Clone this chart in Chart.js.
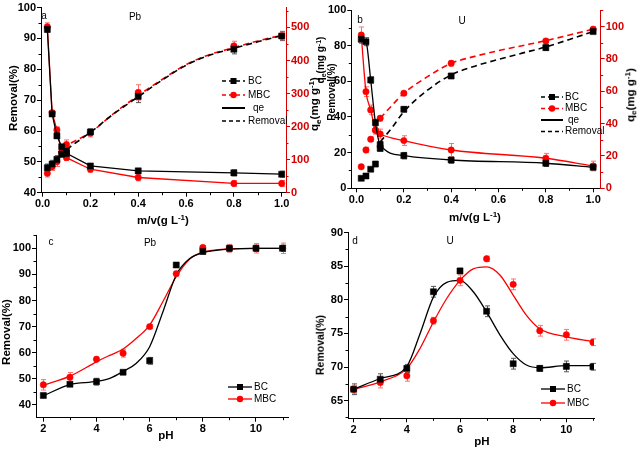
<!DOCTYPE html>
<html><head><meta charset="utf-8">
<script src="https://cdn.jsdelivr.net/npm/chart.js@4.4.1/dist/chart.umd.min.js"></script>
<style>
html,body{margin:0;padding:0;background:#fff;}
#wrap{position:relative;width:638px;height:451px;overflow:hidden;background:#fff;font-family:"Liberation Sans",Arial,sans-serif;}
.p{position:absolute;}
.p canvas{display:block;}
.t{position:absolute;white-space:nowrap;transform:translate(-50%,-50%);line-height:1;color:#000;font-size:10px;}
.b{font-weight:bold;font-size:11.5px;}
.r{transform:translate(-50%,-50%) rotate(-90deg);}
.t sub{font-size:70%;vertical-align:-0.3em;line-height:0;}
.t sup{font-size:70%;vertical-align:0.5em;line-height:0;}
</style></head><body>
<div id="wrap">
 <div class="p" style="left:0;top:0;width:319px;height:225px"><canvas id="ca" width="319" height="225"></canvas></div>
 <div class="p" style="left:319px;top:0;width:319px;height:225px"><canvas id="cb" width="319" height="225"></canvas></div>
 <div class="p" style="left:0;top:225px;width:319px;height:226px"><canvas id="cc" width="319" height="226"></canvas></div>
 <div class="p" style="left:319px;top:225px;width:319px;height:226px"><canvas id="cd" width="319" height="226"></canvas></div>

 <div class="t" style="left:44px;top:16px">a</div>
 <div class="t" style="left:135px;top:17px">Pb</div>
 <div class="t b r" style="left:14px;top:98px">Removal(%)</div>
 <div class="t b r" style="left:315px;top:104px">q<sub>e</sub>(mg g<sup>-1</sup>)</div>
 <div class="t b" style="left:163px;top:221px">m/v(g L<sup>-1</sup>)</div>

 <div class="t" style="left:360px;top:20px">b</div>
 <div class="t" style="left:462px;top:21px">U</div>
 <div class="t b r" style="left:321px;top:60px;font-size:10px">q<sub>e</sub>(mg g<sup>-1</sup>)</div>
 <div class="t b r" style="left:331.5px;top:92px;font-size:10px">Removal(%)</div>
 <div class="t b r" style="left:631px;top:95px">q<sub>e</sub>(mg g<sup>-1</sup>)</div>
 <div class="t b" style="left:475px;top:218px">m/v(g L<sup>-1</sup>)</div>

 <div class="t" style="left:51px;top:242px">c</div>
 <div class="t" style="left:150px;top:243px">Pb</div>
 <div class="t b r" style="left:7px;top:332px">Removal(%)</div>
 <div class="t b" style="left:166px;top:436px">pH</div>

 <div class="t" style="left:355px;top:241px">d</div>
 <div class="t" style="left:450px;top:241px">U</div>
 <div class="t b r" style="left:320px;top:345px;font-size:10.5px">Removal(%)</div>
 <div class="t b" style="left:482px;top:442px">pH</div>
</div>
<script>
// ---------- DATA ----------
// Panel a (Pb, dosage)
const xA = [0.02,0.04,0.06,0.08,0.1,0.2,0.4,0.8,1.0];
const aBCremoval  = [48.1,49.3,50.8,52.5,53.5,59.7,71.2,86.5,90.8];
const aMBCremoval = [46.3,48.4,50.0,53.0,55.6,59.3,72.5,87.6,90.8];
const aBCqe  = [494,238,172,139,119,81,66,60,56];
const aMBCqe = [502,242,190,122,106,71,46,28,28];
const aBCremErr  = [1.2,1.2,1.2,1.0,1.0,1.0,2.0,1.5,1.5];
const aMBCremErr = [1.2,1.2,1.5,1.5,1.5,1.2,2.5,1.5,1.2];
const aBCqeErr  = [8,6,6,6,8,7,7,9,9];
const aMBCqeErr = [12,7,9,8,8,9,10,9,9];
const aFitX = [0.1,0.2,0.3,0.4,0.5,0.6,0.7,0.8,0.9,1.0];
const aBCfit  = [54.0,59.6,65.7,71.1,76.5,81.3,84.6,86.8,88.9,90.9];
const aMBCfit = [55.4,59.5,65.8,71.5,76.7,81.5,84.8,87.0,89.2,91.0];
const aXTicks = [0,0.2,0.4,0.6,0.8,1.0], aXMinor = [0.1,0.3,0.5,0.7,0.9];
const aYTicks = [40,50,60,70,80,90,100], aYMinor = [45,55,65,75,85,95];
const aY2Ticks = [0,100,200,300,400,500], aY2Minor = [50,150,250,350,450,550];

// Panel b (U, dosage)
const xB = [0.02,0.04,0.06,0.08,0.1,0.2,0.4,0.8,1.0];
const bBCremoval  = [5.6,6.9,10.7,13.6,22.4,44.3,63.0,78.9,87.9];
const bMBCremoval = [12.1,21.5,27.5,32.5,39.3,53.3,70.1,82.6,89.3];
const bBCqe  = [92.2,90.7,67.0,40.6,27.0,20.2,17.5,15.5,13.0];
const bMBCqe = [94.8,59.8,48.5,36.0,33.6,29.5,23.7,18.6,13.8];
const bBCremErr  = [0.8,1.2,1.0,1.5,1.5,1.5,1.5,1.5,1.2];
const bMBCremErr = [1.0,1.5,1.2,1.2,1.5,1.0,1.5,1.0,1.2];
const bBCqeErr  = [2.5,2.5,2,2,2,2,2,2,2];
const bMBCqeErr = [5,3,3,2.5,3,3,4,3,3];
const bFitX = [0.1,0.15,0.2,0.3,0.4,0.5,0.6,0.7,0.8,0.9,1.0];
const bBCfit  = [26.0,34.0,43.0,55.0,63.6,68.5,72.3,75.8,79.3,83.5,87.9];
const bMBCfit = [39.3,46.5,53.3,62.6,70.1,74.0,77.2,80.0,82.8,86.0,89.3];
const bXTicks = [0,0.2,0.4,0.6,0.8,1.0], bXMinor = [0.1,0.3,0.5,0.7,0.9];
const bYTicks = [0,20,40,60,80,100], bYMinor = [10,30,50,70,90];
const bY2Ticks = [0,20,40,60,80,100], bY2Minor = [10,30,50,70,90,110];

// Panel c (Pb, pH)
const xC = [2,3,4,5,6,7,8,9,10,11];
const cBC  = [43.6,47.9,48.9,52.5,56.9,93.6,98.8,100,100,100];
const cMBC = [47.7,50.6,57.5,59.8,70.0,90.3,100.3,100,100,100];
const cBCErr  = [0.8,0.8,1.3,0.8,1.3,0.8,1.0,1.2,1.2,1.2];
const cMBCErr = [2.0,1.8,0.8,1.5,0.8,0.8,0.8,1.5,1.8,2.0];
const cFitX = [2,3,4,4.5,5,5.5,6,6.5,7,7.5,8,9,10,11];
const cBCfit  = [43.5,47.8,49.0,50.2,52.8,56.0,62.3,75.7,89.8,96.0,98.3,99.7,100,100];
const cMBCfit = [47.5,51.0,56.5,59.0,61.4,65.5,70.6,79.6,89.1,95.8,98.5,99.8,100,100];
const cXTicks = [2,4,6,8,10], cXMinor = [3,5,7,9,11];
const cYTicks = [40,50,60,70,80,90,100], cYMinor = [45,55,65,75,85,95,105];

// Panel d (U, pH)
const xD = [2,3,4,5,6,7,8,9,10,11];
const dBC  = [66.7,68.2,69.8,81.2,84.3,78.3,70.5,69.8,70.1,70.05];
const dMBC = [66.7,67.7,68.7,76.9,82.9,86.1,82.3,75.4,74.8,73.7];
const dBCErr  = [0.8,0.8,0.6,0.8,0.4,0.8,0.8,0.4,0.8,0.5];
const dMBCErr = [0.6,0.8,0.8,0.5,0.8,0.4,0.8,0.8,0.8,0.5];
const dFitX = [2,3,4,4.5,5,5.5,6,6.5,7,7.5,8,8.5,9,10,11];
const dBCfit  = [66.7,68.3,70.1,75.0,80.4,82.6,82.9,81.2,78.2,74.8,72.0,70.3,69.9,70.2,70.2];
const dMBCfit = [66.7,67.8,69.8,72.8,76.7,80.2,82.9,84.6,84.9,83.7,80.7,77.7,75.7,74.5,73.8];
const dXTicks = [2,4,6,8,10], dXMinor = [3,5,7,9,11];
const dYTicks = [65,70,75,80,85,90], dYMinor = [62.5,67.5,72.5,77.5,82.5,87.5];

// ---------- STYLE / HELPERS ----------
const RED = '#ff0000', AXRED = '#d40000', BLACK = '#000000';
const FAM = '"Liberation Sans", Arial, sans-serif';
Chart.defaults.font.family = FAM;
const tickFont = {family: FAM, size: 11, weight: 'bold'};

function pts(xs, ys){ return xs.map((x,i)=>({x:x, y:ys[i]})); }

function axis(o){
  return {
    type:'linear', position:o.position, min:o.min, max:o.max, bounds:'data',
    afterBuildTicks: ax => { ax.ticks = o.ticks.map(v=>({value:v})); },
    afterFit: ax => { if (ax.isHorizontal()) ax.height = o.size; else ax.width = o.size; },
    ticks:{color:o.color, font:tickFont, padding:1, autoSkip:false, maxRotation:0,
           callback: v => o.fmt ? o.fmt(v) : String(v)},
    grid:{display:true, drawOnChartArea:false, drawTicks:true, tickLength:4, color:o.color, lineWidth:1},
    border:{display:true, color:o.color, width:1},
    title:{display:false}
  };
}

function pointsSet(xs, ys, errs, color, errColor, style, yID, order, showLine, tension){
  return {
    data: pts(xs, ys), errors: errs, errColor: errColor, yAxisID: yID, order: order,
    showLine: showLine, borderColor: color, backgroundColor: color, borderWidth: 1.3,
    tension: tension||0, cubicInterpolationMode: tension ? 'monotone' : 'default',
    pointStyle: style, pointRadius: style === 'rect' ? 4.3 : 3.2, pointBorderWidth: 0.5,
    pointBackgroundColor: color, pointBorderColor: color
  };
}
function fitSet(xs, ys, color, yID, order, dash, offset){
  return {
    data: pts(xs, ys), yAxisID: yID, order: order, showLine: true,
    borderColor: color, backgroundColor: color, borderWidth: dash ? 1.6 : 1.3,
    borderDash: dash || [], borderDashOffset: offset || 0,
    tension: 0.4, cubicInterpolationMode: 'monotone', pointRadius: 0
  };
}

const errPlugin = {
  id:'errBars',
  beforeDatasetsDraw(chart){
    const ctx = chart.ctx;
    chart.data.datasets.forEach((ds, di) => {
      if (!ds.errors) return;
      const meta = chart.getDatasetMeta(di);
      const xs = chart.scales[meta.xAxisID], ys = chart.scales[meta.yAxisID];
      ctx.save(); ctx.strokeStyle = ds.errColor; ctx.lineWidth = 1;
      ds.data.forEach((d, i) => {
        const e = ds.errors[i]; if (!e) return;
        const x = Math.round(xs.getPixelForValue(d.x)) + 0.5;
        const y1 = ys.getPixelForValue(d.y - e), y2 = ys.getPixelForValue(d.y + e);
        ctx.beginPath();
        ctx.moveTo(x, y1); ctx.lineTo(x, y2);
        ctx.moveTo(x-2.5, y1); ctx.lineTo(x+2.5, y1);
        ctx.moveTo(x-2.5, y2); ctx.lineTo(x+2.5, y2);
        ctx.stroke();
      });
      ctx.restore();
    });
  }
};

const minorPlugin = {
  id:'minorTicks',
  afterDraw(chart, args, o){
    const ctx = chart.ctx;
    (o.axes||[]).forEach(a => {
      const s = chart.scales[a.id]; if (!s) return;
      ctx.save(); ctx.strokeStyle = a.color; ctx.lineWidth = 1;
      a.values.forEach(v => {
        if (v < s.min || v > s.max) return;
        const p = Math.round(s.getPixelForValue(v)) + 0.5;
        ctx.beginPath();
        if (s.isHorizontal()) { ctx.moveTo(p, s.top); ctx.lineTo(p, s.top + 2.5); }
        else if (s.position === 'left') { ctx.moveTo(s.right, p); ctx.lineTo(s.right - 2.5, p); }
        else { ctx.moveTo(s.left, p); ctx.lineTo(s.left + 2.5, p); }
        ctx.stroke();
      });
      ctx.restore();
    });
  }
};

const legendPlugin = {
  id:'inLegend',
  afterDraw(chart, args, o){
    if (!o.items) return;
    const ctx = chart.ctx;
    o.items.forEach((it, i) => {
      const y = o.ys[i];
      ctx.save();
      ctx.strokeStyle = it.color; ctx.lineWidth = it.lw || 1.3;
      ctx.setLineDash(it.dash || []);
      ctx.beginPath(); ctx.moveTo(o.x0, y); ctx.lineTo(o.x1, y); ctx.stroke();
      ctx.setLineDash([]);
      const cx = (o.x0 + o.x1) / 2;
      ctx.fillStyle = it.color;
      if (it.marker === 'rect') ctx.fillRect(cx-3, y-3, 6, 6);
      else if (it.marker === 'circle') { ctx.beginPath(); ctx.arc(cx, y, 3.2, 0, Math.PI*2); ctx.fill(); }
      ctx.fillStyle = '#000'; ctx.font = '10px ' + FAM; ctx.textBaseline = 'middle'; ctx.textAlign = 'left';
      ctx.fillText(it.text, o.tx + (it.dx||0), y);
      ctx.restore();
    });
  }
};

function makeChart(id, datasets, scales, pad, minor, legend){
  return new Chart(document.getElementById(id), {
    type:'scatter',
    data:{datasets: datasets},
    options:{
      responsive:false, animation:false, devicePixelRatio:1,
      layout:{padding:pad},
      scales: scales,
      plugins:{legend:{display:false}, tooltip:{enabled:false},
               minorTicks:{axes:minor}, inLegend:legend}
    },
    plugins:[errPlugin, minorPlugin, legendPlugin]
  });
}

const fmt1 = v => v.toFixed(1);

// ---------- PANEL A ----------
makeChart('ca', [
  pointsSet(xA, aBCqe, aBCqeErr, BLACK, '#555', 'rect', 'y2', 1, true, 0),
  pointsSet(xA, aBCremoval, aBCremErr, BLACK, '#555', 'rect', 'y', 2, false, 0),
  pointsSet(xA, aMBCqe, aMBCqeErr, RED, '#ff7070', 'circle', 'y2', 3, true, 0),
  pointsSet(xA, aMBCremoval, aMBCremErr, RED, '#ff7070', 'circle', 'y', 4, false, 0),
  fitSet(aFitX, aBCfit, BLACK, 'y', 5, [6,4], 0),
  fitSet(aFitX, aMBCfit, RED, 'y', 6, [6,4], 5)
], {
  x: axis({position:'bottom', min:-0.0065, max:1.018, ticks:aXTicks, fmt:fmt1, color:BLACK, size:32.3}),
  y: axis({position:'left', min:40, max:100, ticks:aYTicks, color:BLACK, size:41}),
  y2: axis({position:'right', min:0, max:560, ticks:aY2Ticks, color:AXRED, size:33})
}, {left:0, right:0, top:7.3, bottom:0},
[{id:'x', values:aXMinor, color:BLACK},{id:'y', values:aYMinor, color:BLACK},{id:'y2', values:aY2Minor, color:AXRED}],
{x0:222, x1:245, tx:248, ys:[81,95,108,121], items:[
  {text:'BC', color:BLACK, dash:[4,3], marker:'rect'},
  {text:'MBC', color:RED, dash:[4,3], marker:'circle'},
  {text:'qe', color:BLACK, lw:2, dx:5},
  {text:'Removal', color:BLACK, dash:[4,3]}
]});

// ---------- PANEL B ----------
makeChart('cb', [
  pointsSet(xB, bBCqe, bBCqeErr, BLACK, '#555', 'rect', 'y2', 1, true, 0.4),
  pointsSet(xB, bBCremoval, bBCremErr, BLACK, '#555', 'rect', 'y', 2, false, 0),
  pointsSet(xB, bMBCqe, bMBCqeErr, RED, '#ff7070', 'circle', 'y2', 3, true, 0.4),
  pointsSet(xB, bMBCremoval, bMBCremErr, RED, '#ff7070', 'circle', 'y', 4, false, 0),
  fitSet(bFitX, bBCfit, BLACK, 'y', 5, [6,4], 0),
  fitSet(bFitX, bMBCfit, RED, 'y', 6, [6,4], 0)
], {
  x: axis({position:'bottom', min:-0.022, max:1.032, ticks:bXTicks, fmt:fmt1, color:BLACK, size:36.7}),
  y: axis({position:'left', min:0, max:100, ticks:bYTicks, color:BLACK, size:32.3}),
  y2: axis({position:'right', min:0, max:110.3, ticks:bY2Ticks, color:AXRED, size:37.3})
}, {left:0, right:0, top:10, bottom:0},
[{id:'x', values:bXMinor, color:BLACK},{id:'y', values:bYMinor, color:BLACK},{id:'y2', values:bY2Minor, color:AXRED}],
{x0:222, x1:244, tx:246, ys:[97,108.5,120,131.5], items:[
  {text:'BC', color:BLACK, dash:[4,3], marker:'rect'},
  {text:'MBC', color:RED, dash:[4,3], marker:'circle'},
  {text:'qe', color:BLACK, lw:2, dx:3},
  {text:'Removal', color:BLACK, dash:[4,3]}
]});

// ---------- PANEL C ----------
makeChart('cc', [
  pointsSet(xC, cBC, cBCErr, BLACK, '#555', 'rect', 'y', 1, false, 0),
  pointsSet(xC, cMBC, cMBCErr, RED, '#ff7070', 'circle', 'y', 2, false, 0),
  fitSet(cFitX, cBCfit, BLACK, 'y', 3, null, 0),
  fitSet(cFitX, cMBCfit, RED, 'y', 4, null, 0)
], {
  x: axis({position:'bottom', min:1.724, max:11.216, ticks:cXTicks, color:BLACK, size:33.3}),
  y: axis({position:'left', min:35.1, max:105.1, ticks:cYTicks, color:BLACK, size:36})
}, {left:0, right:30.7, top:10, bottom:0},
[{id:'x', values:cXMinor, color:BLACK},{id:'y', values:cYMinor, color:BLACK}],
{x0:228, x1:252, tx:254, ys:[162,174], items:[
  {text:'BC', color:BLACK, marker:'rect'},
  {text:'MBC', color:RED, marker:'circle'}
]});

// ---------- PANEL D ----------
makeChart('cd', [
  pointsSet(xD, dBC, dBCErr, BLACK, '#555', 'rect', 'y', 1, false, 0),
  pointsSet(xD, dMBC, dMBCErr, RED, '#ff7070', 'circle', 'y', 2, false, 0),
  fitSet(dFitX, dBCfit, BLACK, 'y', 3, null, 0),
  fitSet(dFitX, dMBCfit, RED, 'y', 4, null, 0)
], {
  x: axis({position:'bottom', min:1.787, max:11.04, ticks:dXTicks, color:BLACK, size:32.7}),
  y: axis({position:'left', min:62.38, max:90, ticks:dYTicks, color:BLACK, size:29})
}, {left:0, right:44, top:7.3, bottom:0},
[{id:'x', values:dXMinor, color:BLACK},{id:'y', values:dYMinor, color:BLACK}],
{x0:222, x1:246, tx:248, ys:[164,178], items:[
  {text:'BC', color:BLACK, marker:'rect'},
  {text:'MBC', color:RED, marker:'circle'}
]});
</script>
</body></html>
